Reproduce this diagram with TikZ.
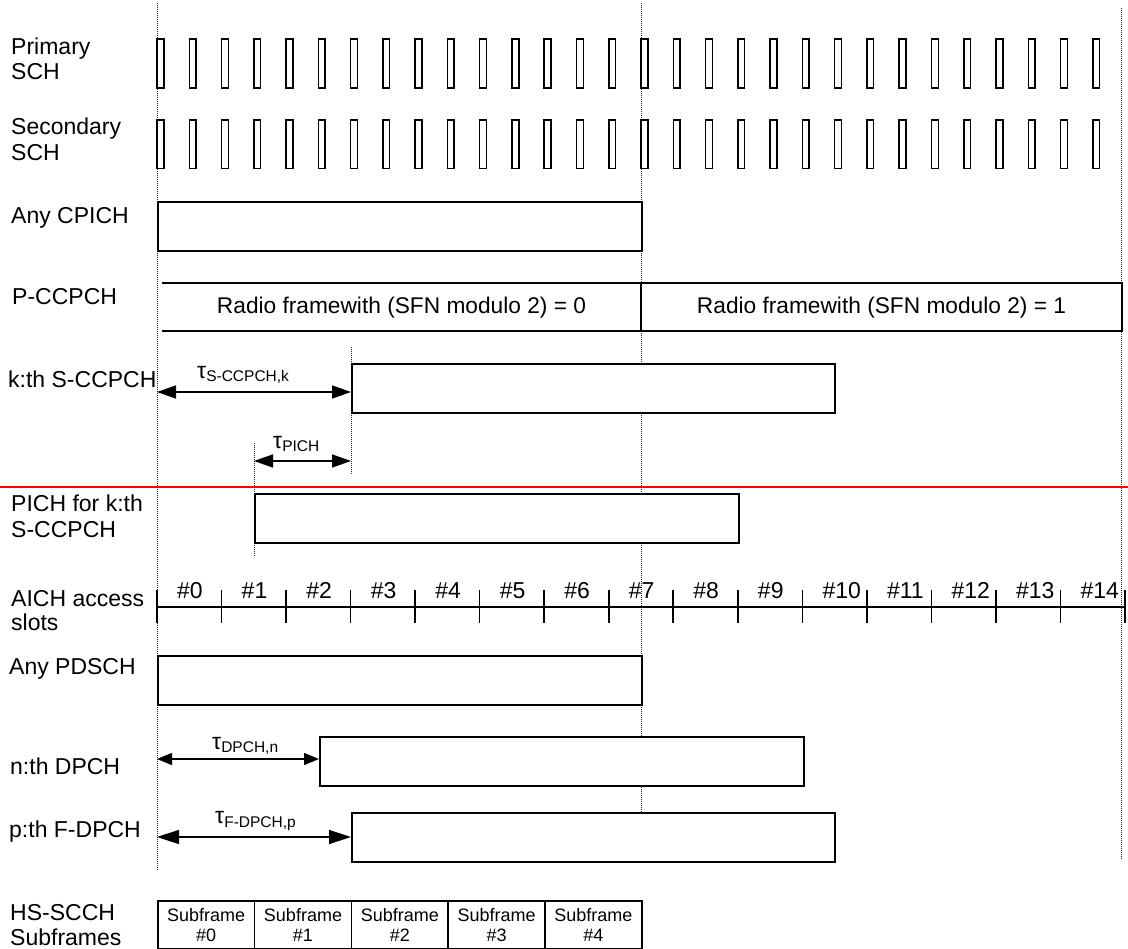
\documentclass[tikz,border=0pt]{standalone}
\usepackage{fontspec}
\setmainfont{Liberation Sans}
\usetikzlibrary{arrows.meta}
\newcommand\tauL[2][3pt]{{\fontsize{23}{25}\selectfont τ}\raisebox{-#1}{\fontsize{15.5}{18}\selectfont #2}}
\begin{document}
\begin{tikzpicture}[x=1pt,y=-1pt,
  lbl/.style={anchor=base west, inner sep=0pt, font=\fontsize{23}{25.7}\selectfont},
  ctr/.style={anchor=base, inner sep=0pt, font=\fontsize{22.7}{25.7}\selectfont},
  box/.style={draw, fill=white, line width=1.6pt, anchor=north west, inner sep=0pt, minimum height=49pt},
  pulse/.style={draw, line width=1.5pt, fill=white},
  vdot/.style={line width=1pt, dash pattern=on 1pt off 1pt, black!85},
  ln/.style={line width=1.6pt},
  dimA/.style={line width=1.5pt, {Triangle[length=19pt,width=13pt]}-{Triangle[length=19pt,width=13pt]}},
  dimB/.style={line width=1.5pt, {Triangle[length=15pt,width=12pt]}-{Triangle[length=15pt,width=12pt]}},
  dimC/.style={line width=1.5pt, {Triangle[length=22pt,width=14pt]}-{Triangle[length=22pt,width=14pt]}},
  sfbox/.style={draw, fill=white, line width=1.6pt, anchor=north west, inner sep=0pt,
     minimum width=96.8pt, minimum height=48.3pt, align=center, font=\fontsize{18}{20}\selectfont}
]
\useasboundingbox (0,0) rectangle (1128,949);

% dotted reference lines
\draw[vdot] (157,3) -- (157,870);
\draw[vdot] (641,3) -- (641,812);
\draw[vdot] (1121.5,8) -- (1121.5,860);
\draw[vdot] (351,347) -- (351,475);
\draw[vdot] (254,443) -- (254,557);

% labels
\node[lbl] (l1a) at (11,55) {Primary};
\node[lbl] (l1b) at (11,80) {SCH};
\node[lbl] (l2a) at (11,135) {Secondary};
\node[lbl] (l2b) at (11,161) {SCH};
\node[lbl] (l3) at (11,224) {Any CPICH};
\node[lbl] (l4) at (12,305) {P-CCPCH};
\node[lbl] (l5) at (8,388) {k:th S-CCPCH};
\node[lbl] (l6a) at (11,512) {PICH for k:th};
\node[lbl] (l6b) at (11,537) {S-CCPCH};
\node[lbl] (l7a) at (11,606) {AICH access};
\node[lbl] (l7b) at (11,630) {slots};
\node[lbl] (l8) at (9,674) {Any PDSCH};
\node[lbl] (l9) at (10,774) {n:th DPCH};
\node[lbl] (l10) at (9,837) {p:th F-DPCH};
\node[lbl] (l11a) at (10,920) {HS-SCCH};
\node[lbl] (l11b) at (10,945) {Subframes};

% SCH pulses
\foreach \i in {0,...,29} {
  \draw[pulse] ({157+\i*32.27},39) rectangle ++(6.8,49);
  \draw[pulse] ({157+\i*32.27},120) rectangle ++(6.8,48.5);
}

% CPICH
\node[box, minimum width=484pt] (cpich) at (157,201) {};

% P-CCPCH
\draw[ln] (162,283) -- (1122,283) -- (1122,331) -- (162,331);
\draw[ln] (641,283) -- (641,331);
\node[ctr] (rf0) at (401.5,314) {Radio framewith (SFN modulo 2) = 0};
\node[ctr] (rf1) at (881.5,314) {Radio framewith (SFN modulo 2) = 1};

% S-CCPCH
\node[box, minimum width=483pt] (scc) at (351,363) {};
\coordinate (sccA) at (157,392);
\draw[dimA] (sccA) -- (sccA -| scc.west);
\node[lbl] (tscc) at (197,379) {\tauL{S-CCPCH,k}};

% tau PICH
\coordinate (pA) at (254,461);
\coordinate (pB) at (351,461);
\draw[dimA] (pA) -- (pB);
\node[lbl] (tpich) at (273,449) {\tauL{PICH}};

% red separator
\draw[red, line width=1.6pt] (0,487) -- (1128,487);

% PICH
\node[box, minimum width=484pt] (pich) at (254,493) {};

% AICH access slots
\draw[ln] (157,607) -- (1125,607);
\foreach \k in {0,...,15} {
  \draw[ln] ({157+\k*64.53},590) -- ({157+\k*64.53},623);
}
\foreach \k in {0,...,14} {
  \node[lbl] (as\k) at ({177+\k*64.53},598) {\#\k};
}

% PDSCH
\node[box, minimum width=484pt] (pdsch) at (157,655) {};

% DPCH
\node[box, minimum width=484pt] (dpch) at (319,736) {};
\coordinate (dA) at (157,759);
\draw[dimB] (dA) -- (dA -| dpch.west);
\node[lbl] (tdpch) at (212,749) {\tauL{DPCH,n}};

% F-DPCH
\node[box, minimum width=483pt] (fdpch) at (351,812) {};
\coordinate (fA) at (157,837);
\draw[dimC] (fA) -- (fA -| fdpch.west);
\node[lbl] (tfdpch) at (215,823) {\tauL[4pt]{F-DPCH,p}};

% HS-SCCH subframes
\foreach \k in {0,...,4} {
  \node[sfbox] (sf\k) at ({157+\k*96.8},900) {Subframe\\\#\k};
}
\end{tikzpicture}
\end{document}
